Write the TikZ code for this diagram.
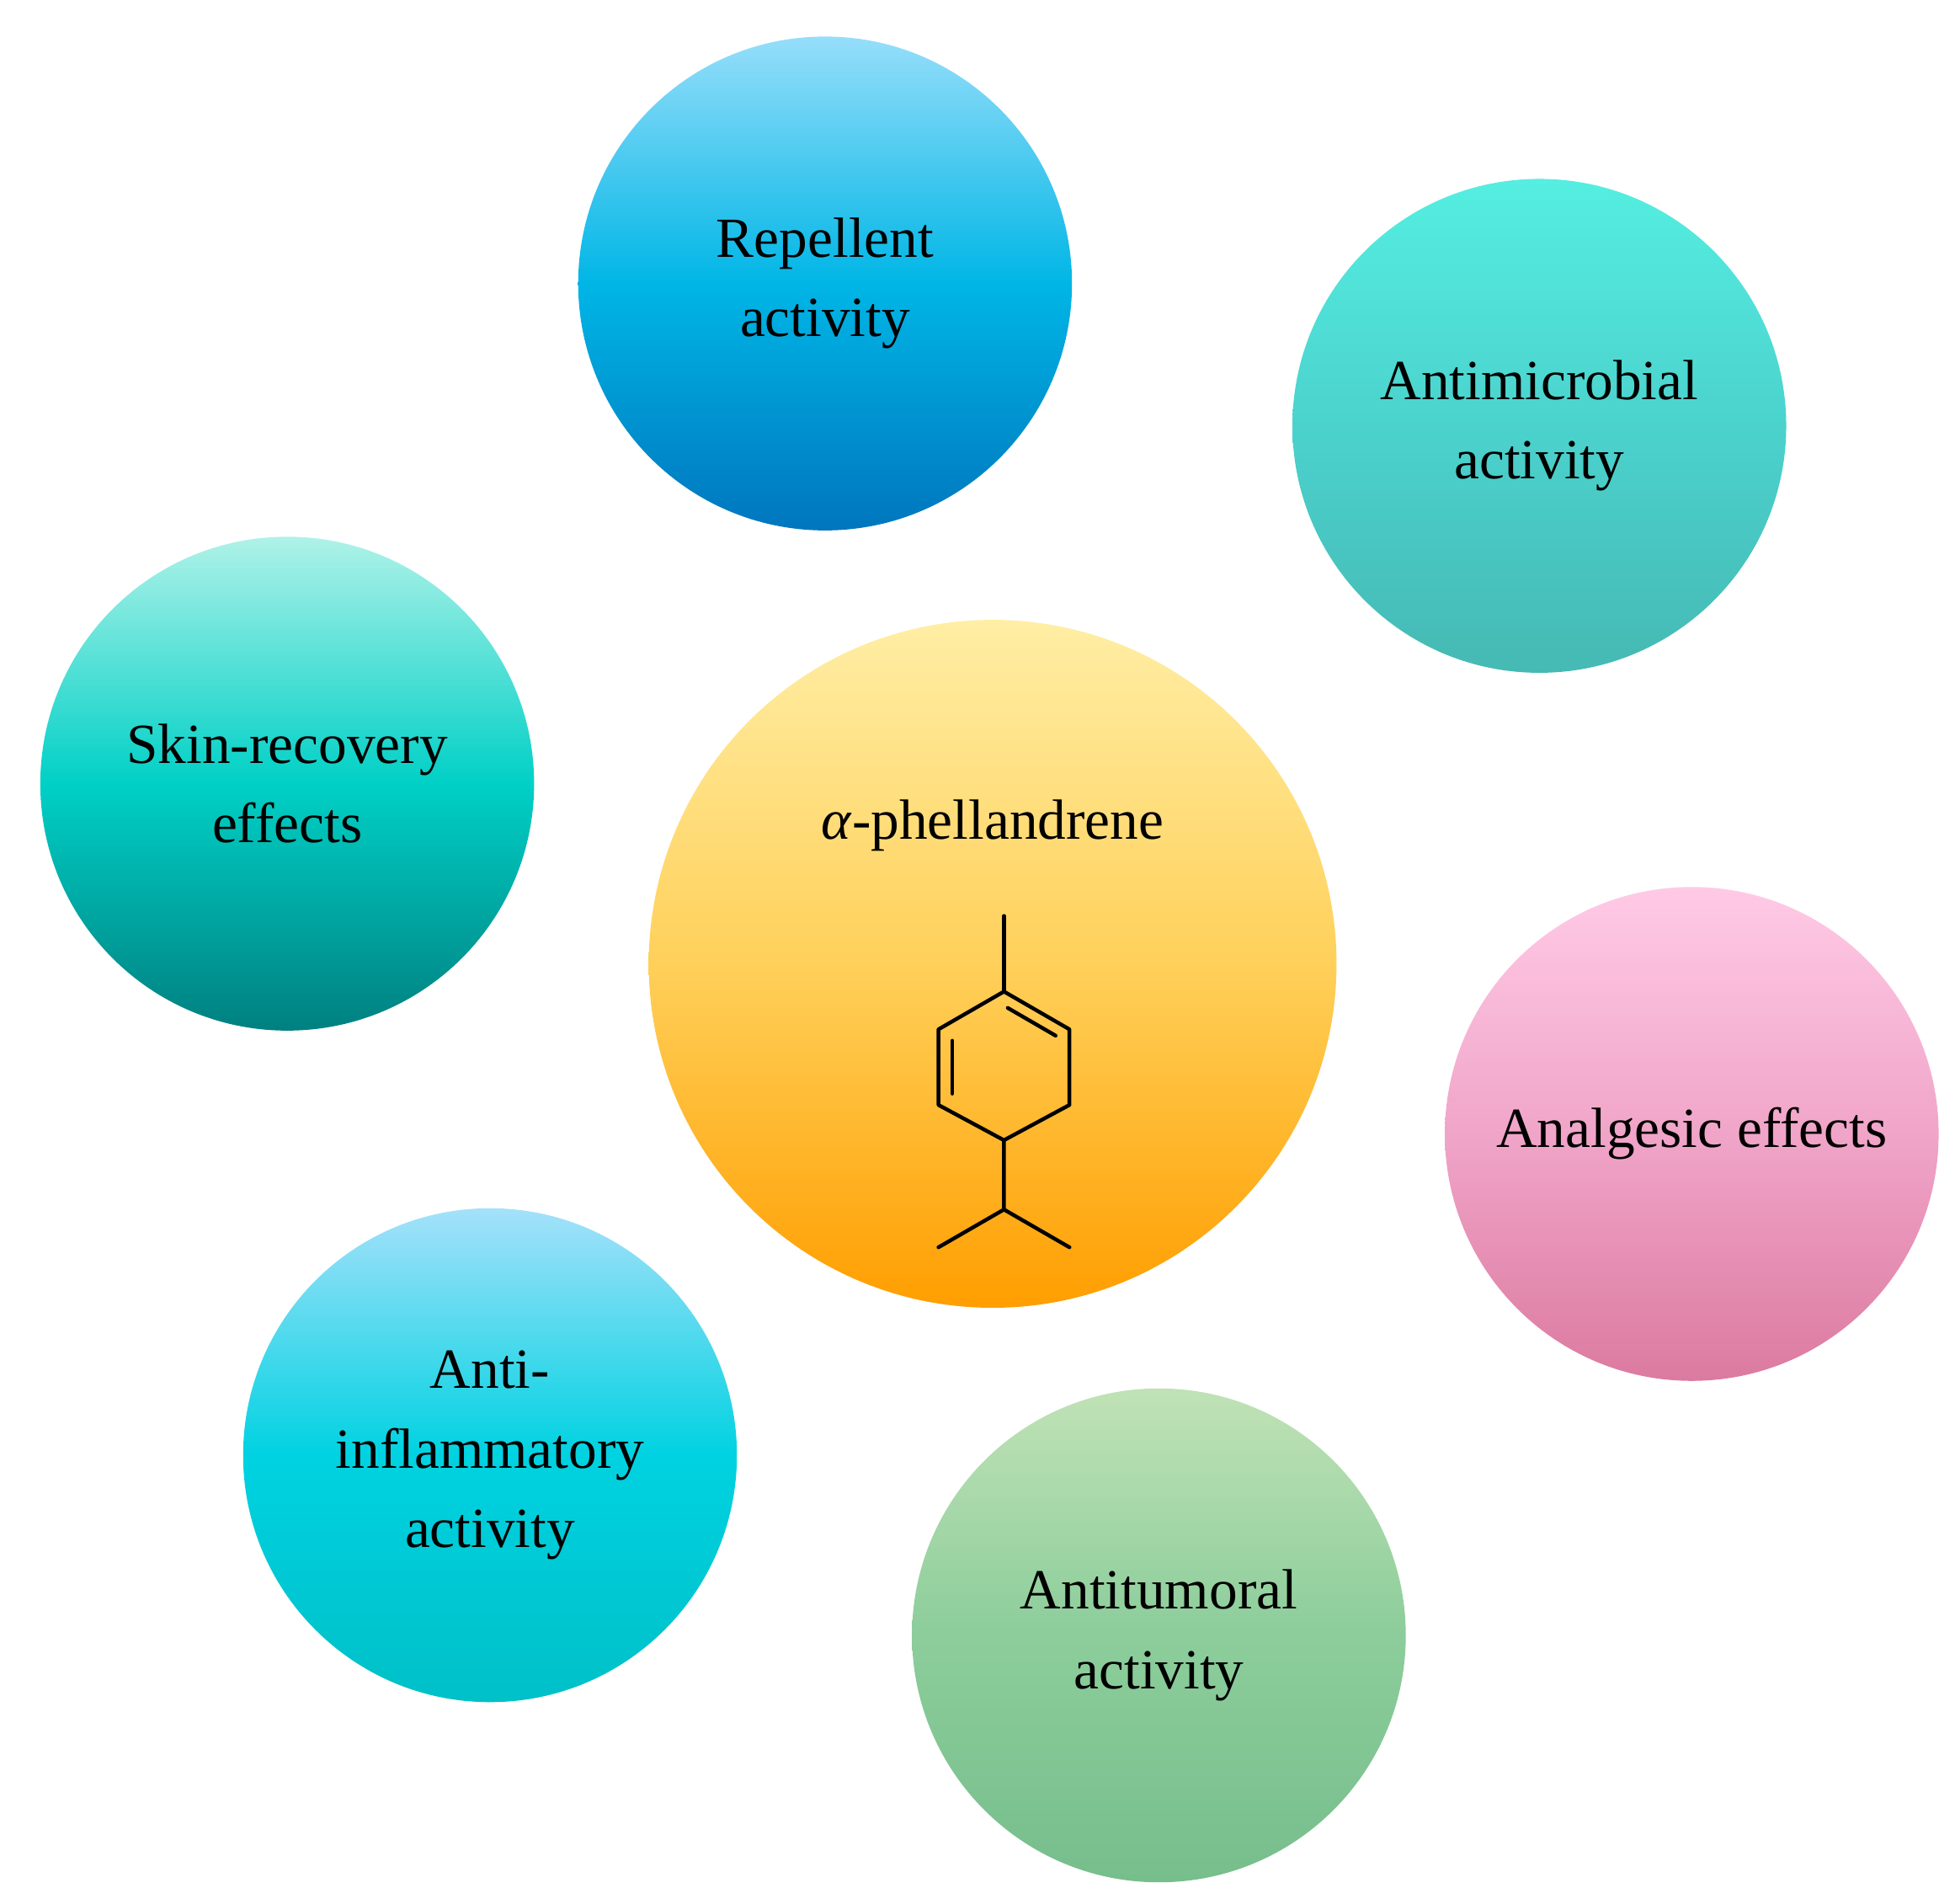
\documentclass[tikz,border=0pt]{standalone}
\usepackage{fontspec}
\setmainfont{Liberation Serif}
\begin{document}
\begin{tikzpicture}[x=1pt,y=-1pt,
  bub/.style={circle,minimum size=392pt,inner sep=0pt,align=center,font=\fontsize{45}{63}\selectfont,text=black},
  bond/.style={line width=3pt,line cap=round,line join=round}]
\useasboundingbox (0,0) rectangle (1552,1511);
\definecolor{c1t}{RGB}{150,222,250}\definecolor{c1m}{RGB}{0,182,230}\definecolor{c1b}{RGB}{0,118,190}
\definecolor{c2t}{RGB}{85,238,225}\definecolor{c2m}{RGB}{75,210,205}\definecolor{c2b}{RGB}{70,185,180}
\definecolor{c3t}{RGB}{175,242,232}\definecolor{c3m}{RGB}{0,208,198}\definecolor{c3b}{RGB}{0,128,128}
\definecolor{c4t}{RGB}{255,238,165}\definecolor{c4m}{RGB}{255,208,90}\definecolor{c4b}{RGB}{255,158,0}
\definecolor{c5t}{RGB}{255,202,230}\definecolor{c5m}{RGB}{240,165,200}\definecolor{c5b}{RGB}{220,122,160}
\definecolor{c6t}{RGB}{165,225,250}\definecolor{c6m}{RGB}{0,210,225}\definecolor{c6b}{RGB}{0,192,200}
\definecolor{c7t}{RGB}{192,226,182}\definecolor{c7m}{RGB}{140,205,155}\definecolor{c7b}{RGB}{118,190,140}
\node[bub,top color=c1t,bottom color=c1b,middle color=c1m] (rep) at (655,225) {Repellent\\activity};
\node[bub,top color=c2t,bottom color=c2b,middle color=c2m] (mic) at (1222,338) {Antimicrobial\\activity};
\node[bub,top color=c3t,bottom color=c3b,middle color=c3m] (skin) at (228,622) {Skin-recovery\\effects};
\node[bub,minimum size=546pt,top color=c4t,bottom color=c4b,middle color=c4m] (cen) at (788,765) {};
\node[font=\fontsize{45}{63}\selectfont] (lab) at (788,655) {\textit{α}-phellandrene};
\node[bub,top color=c5t,bottom color=c5b,middle color=c5m] (ana) at (1343,900) {Analgesic effects};
\node[bub,top color=c6t,bottom color=c6b,middle color=c6m] (inf) at (389,1155) {Anti-\\inflammatory\\activity};
\node[bub,top color=c7t,bottom color=c7b,middle color=c7m] (tum) at (920,1298) {Antitumoral\\activity};
% molecule
\draw[bond] (797,727) -- (797,787);
\draw[bond] (797,787) -- (849,817) -- (849,877) -- (797,905) -- (745,877) -- (745,817) -- cycle;
\draw[bond] (800,800) -- (838,822);
\draw[bond] (756,826) -- (756,868);
\draw[bond] (797,905) -- (797,960) -- (745,990);
\draw[bond] (797,960) -- (849,990);
\end{tikzpicture}
\end{document}
